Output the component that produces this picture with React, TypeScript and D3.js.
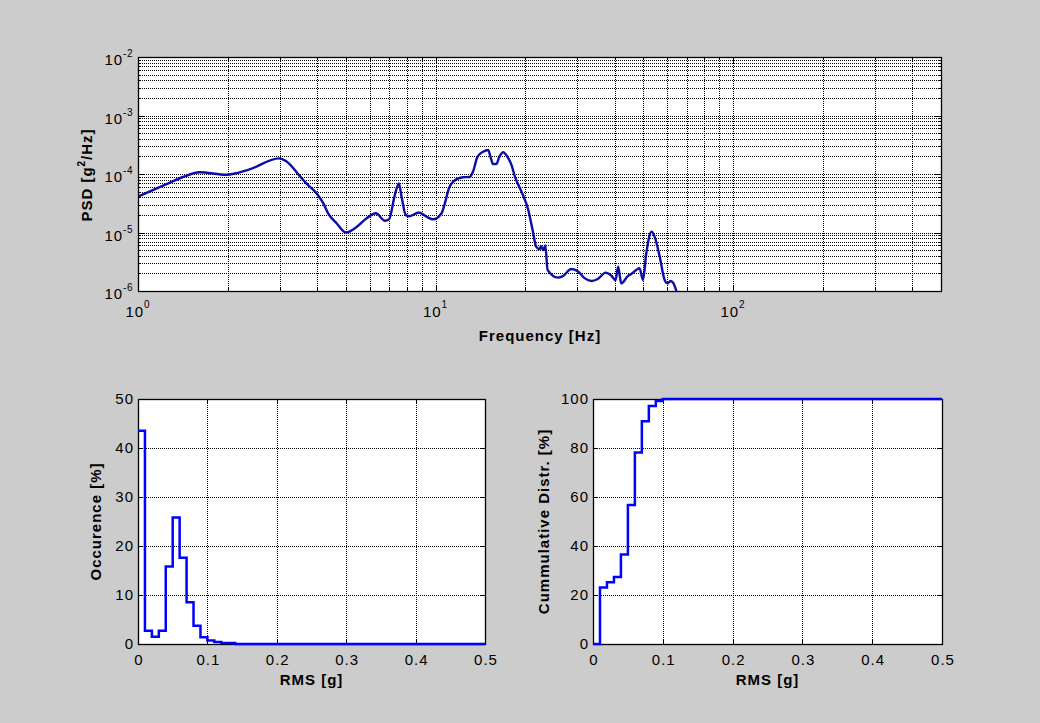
import React from "react";
import * as d3 from "d3";

// ---------- Data ----------
const psdFreq = [
  1.0, 1.23, 1.41, 1.61, 1.98, 2.37, 2.98, 3.15, 3.5, 3.68, 3.98, 4.19, 4.36, 4.65, 5.0,
  5.36, 5.87, 6.3, 6.76, 6.98, 7.3, 7.53, 7.69, 7.94, 8.18, 8.79, 9.33, 9.82, 10.48,
  10.75, 11.1, 11.46, 12.38, 13.04, 13.37, 13.84, 14.45, 15.03, 15.3, 15.6, 16.0, 16.4,
  16.9, 17.3, 18.0, 18.5, 19.45, 20.5, 21.2, 21.8, 22.4, 22.6, 23.0, 23.4, 23.8, 25.8,
  26.8, 28.6, 30.2, 31.7, 33.4, 35.1, 37.3, 39.0, 40.3, 41.1, 41.6, 42.1, 44.3, 45.5,
  47.3, 48.5, 49.8, 51.1, 53.2, 54.5, 56.7, 58.9, 60.2, 61.6, 62.8, 64.5,
];
const psdValue = [
  4.1e-5, 6.5e-5, 8.8e-5, 1.07e-4, 9.7e-5, 1.2e-4, 1.85e-4, 1.65e-4, 9.2e-5, 6.9e-5,
  4.7e-5, 3.2e-5, 2.1e-5, 1.44e-5, 1.0e-5, 1.18e-5, 1.75e-5, 2.13e-5, 1.59e-5, 1.68e-5,
  4.4e-5, 6.9e-5, 4.1e-5, 2.0e-5, 1.9e-5, 2.2e-5, 1.86e-5, 1.68e-5, 2.13e-5, 3.16e-5,
  5.7e-5, 7.4e-5, 8.8e-5, 8.9e-5, 1.1e-4, 1.98e-4, 2.4e-4, 2.57e-4, 1.98e-4, 1.48e-4,
  1.48e-4, 1.98e-4, 2.35e-4, 2.1e-4, 1.43e-4, 8.9e-5, 5.0e-5, 2.43e-5, 1.1e-5, 5.7e-6,
  5.2e-6, 5.9e-6, 5.0e-6, 6.0e-6, 2.3e-6, 1.69e-6, 1.8e-6, 2.38e-6, 2.14e-6, 1.66e-6,
  1.48e-6, 1.6e-6, 2.06e-6, 1.82e-6, 1.54e-6, 2.6e-6, 1.85e-6, 1.35e-6, 1.8e-6, 1.96e-6,
  2.29e-6, 2.45e-6, 1.54e-6, 4.4e-6, 1.03e-5, 8.5e-6, 3.86e-6, 1.54e-6, 1.35e-6, 1.48e-6,
  1.4e-6, 1.0e-6,
];

const occEdges = [0, 0.01, 0.02, 0.03, 0.04, 0.05, 0.06, 0.07, 0.08, 0.09, 0.1, 0.11, 0.12, 0.13, 0.14, 0.5];
const occValues = [43.5, 2.7, 1.5, 2.7, 15.8, 25.8, 17.6, 8.5, 3.7, 1.4, 0.7, 0.4, 0.2, 0.2, 0, 0];

const cumEdges = [0, 0.01, 0.02, 0.03, 0.04, 0.05, 0.06, 0.07, 0.08, 0.09, 0.1, 0.5];
const cumValues = [0, 23.1, 25.2, 27.3, 36.5, 56.7, 78.2, 90.9, 97.1, 99.2, 100, 100];

const rmsTicks = [0, 0.1, 0.2, 0.3, 0.4, 0.5];
const occTicks = [0, 10, 20, 30, 40, 50];
const cumTicks = [0, 20, 40, 60, 80, 100];
const freqMajor = [1, 10, 100];
const psdMajor = [1e-6, 1e-5, 1e-4, 1e-3, 1e-2];

// ---------- Layout ----------
const W = 1040;
const H = 723;
const FONT = "'Liberation Sans', Arial, Helvetica, sans-serif";
const TOP = { x0: 138, x1: 941, y0: 57, y1: 291 };
const BL = { x0: 138, x1: 485, y0: 399, y1: 644 };
const BR = { x0: 593, x1: 942, y0: 399, y1: 644 };

const crisp = (v: number) => Math.round(v) + 0.5;
const GRID = { stroke: "#000", strokeWidth: 1, strokeDasharray: "1,1" };

function logMinor(lo: number, hi: number): number[] {
  const out: number[] = [];
  for (let e = Math.floor(Math.log10(lo)); e <= Math.ceil(Math.log10(hi)); e++) {
    for (let k = 1; k <= 9; k++) {
      const v = k * Math.pow(10, e);
      if (v >= lo * 0.9999 && v <= hi * 1.0001) out.push(v);
    }
  }
  return out;
}

function TopPlot() {
  const x = d3.scaleLog().domain([1, 500]).range([TOP.x0, TOP.x1]);
  const y = d3.scaleLog().domain([1e-6, 1e-2]).range([TOP.y1, TOP.y0]);
  const xs = logMinor(1, 500);
  const ys = logMinor(1e-6, 1e-2);
  const pts: [number, number][] = psdFreq.map((f, i) => [f, psdValue[i]]);
  const line = d3
    .line<[number, number]>()
    .x((d) => x(d[0]))
    .y((d) => y(d[1]))
    .curve(d3.curveMonotoneX);
  return (
    <g>
      <rect x={TOP.x0} y={TOP.y0} width={TOP.x1 - TOP.x0} height={TOP.y1 - TOP.y0} fill="#fff" />
      {xs.map((v, i) => (
        <line key={"gx" + i} x1={crisp(x(v))} x2={crisp(x(v))} y1={TOP.y0} y2={TOP.y1} {...GRID} />
      ))}
      {ys.map((v, i) => (
        <line key={"gy" + i} y1={crisp(y(v))} y2={crisp(y(v))} x1={TOP.x0} x2={TOP.x1} {...GRID} />
      ))}
      {xs.map((v, i) => {
        const major = freqMajor.includes(v);
        const L = major ? 6 : 3;
        const px = crisp(x(v));
        return (
          <g key={"tx" + i}>
            <line x1={px} x2={px} y1={TOP.y1} y2={TOP.y1 - L} stroke="#000" />
            <line x1={px} x2={px} y1={TOP.y0} y2={TOP.y0 + L} stroke="#000" />
          </g>
        );
      })}
      {ys.map((v, i) => {
        const major = psdMajor.some((m) => Math.abs(m - v) / m < 1e-6);
        const L = major ? 6 : 3;
        const py = crisp(y(v));
        return (
          <g key={"ty" + i}>
            <line x1={TOP.x0} x2={TOP.x0 + L} y1={py} y2={py} stroke="#000" />
            <line x1={TOP.x1} x2={TOP.x1 - L} y1={py} y2={py} stroke="#000" />
          </g>
        );
      })}
      <clipPath id="topclip">
        <rect x={TOP.x0} y={TOP.y0} width={TOP.x1 - TOP.x0} height={TOP.y1 - TOP.y0} />
      </clipPath>
      <path d={line(pts) || ""} fill="none" stroke="#0c0ca8" strokeWidth={2.4} clipPath="url(#topclip)" strokeLinejoin="round" />
      <rect x={TOP.x0 + 0.5} y={TOP.y0 + 0.5} width={TOP.x1 - TOP.x0} height={TOP.y1 - TOP.y0} fill="none" stroke="#000" strokeWidth={1.3} />
      {freqMajor.map((v) => (
        <text key={"lx" + v} x={x(v)} y={317} textAnchor="middle" fontFamily={FONT} fontSize={15} letterSpacing={1}>
          10
          <tspan dy={-9} fontSize={10}>
            {Math.round(Math.log10(v))}
          </tspan>
        </text>
      ))}
      {psdMajor.map((v) => (
        <text key={"ly" + v} x={133} y={y(v) + 8} textAnchor="end" fontFamily={FONT} fontSize={15} letterSpacing={1}>
          10
          <tspan dy={-8} fontSize={10} letterSpacing={0.5}>
            {Math.round(Math.log10(v))}
          </tspan>
        </text>
      ))}
      <text x={540} y={341} textAnchor="middle" fontFamily={FONT} fontSize={15} fontWeight="bold" letterSpacing={1}>
        Frequency [Hz]
      </text>
      <text transform={`translate(92,175) rotate(-90)`} textAnchor="middle" fontFamily={FONT} fontSize={15} fontWeight="bold" letterSpacing={1}>
        PSD [g
        <tspan dy={-7} fontSize={10}>2</tspan>
        <tspan dy={7}>/Hz]</tspan>
      </text>
    </g>
  );
}

function StairPlot(props: {
  box: { x0: number; x1: number; y0: number; y1: number };
  edges: number[];
  values: number[];
  yMax: number;
  yTicks: number[];
  yLabel: string;
  yLabelX: number;
  id: string;
}) {
  const { box, edges, values, yMax, yTicks, yLabel, yLabelX, id } = props;
  const x = d3.scaleLinear().domain([0, 0.5]).range([box.x0, box.x1]);
  const y = d3.scaleLinear().domain([0, yMax]).range([box.y1, box.y0]);
  const pts: [number, number][] = edges.map((e, i) => [e, values[i]]);
  const line = d3
    .line<[number, number]>()
    .x((d) => x(d[0]))
    .y((d) => y(d[1]))
    .curve(d3.curveStepAfter);
  const cx = (box.x0 + box.x1) / 2;
  const cy = (box.y0 + box.y1) / 2;
  return (
    <g>
      <rect x={box.x0} y={box.y0} width={box.x1 - box.x0} height={box.y1 - box.y0} fill="#fff" />
      {rmsTicks.map((v, i) => (
        <line key={"gx" + i} x1={crisp(x(v))} x2={crisp(x(v))} y1={box.y0} y2={box.y1} {...GRID} />
      ))}
      {yTicks.map((v, i) => (
        <line key={"gy" + i} y1={crisp(y(v))} y2={crisp(y(v))} x1={box.x0} x2={box.x1} {...GRID} />
      ))}
      {rmsTicks.map((v, i) => (
        <g key={"tx" + i}>
          <line x1={crisp(x(v))} x2={crisp(x(v))} y1={box.y1} y2={box.y1 - 4} stroke="#000" />
          <line x1={crisp(x(v))} x2={crisp(x(v))} y1={box.y0} y2={box.y0 + 4} stroke="#000" />
        </g>
      ))}
      {yTicks.map((v, i) => (
        <g key={"ty" + i}>
          <line x1={box.x0} x2={box.x0 + 4} y1={crisp(y(v))} y2={crisp(y(v))} stroke="#000" />
          <line x1={box.x1} x2={box.x1 - 4} y1={crisp(y(v))} y2={crisp(y(v))} stroke="#000" />
        </g>
      ))}
      <clipPath id={id}>
        <rect x={box.x0 - 2} y={box.y0 - 2} width={box.x1 - box.x0 + 4} height={box.y1 - box.y0 + 4} />
      </clipPath>
      <rect x={box.x0 + 0.5} y={box.y0 + 0.5} width={box.x1 - box.x0} height={box.y1 - box.y0} fill="none" stroke="#000" strokeWidth={1.3} />
      <path d={line(pts) || ""} fill="none" stroke="#0000ff" strokeWidth={2.5} clipPath={`url(#${id})`} />
      {rmsTicks.map((v) => (
        <text key={"lx" + v} x={x(v) + 1} y={665} textAnchor="middle" fontFamily={FONT} fontSize={15} letterSpacing={1}>
          {String(v)}
        </text>
      ))}
      {yTicks.map((v) => (
        <text key={"ly" + v} x={box.x0 - 4} y={y(v) + 5} textAnchor="end" fontFamily={FONT} fontSize={15} letterSpacing={1}>
          {String(v)}
        </text>
      ))}
      <text x={cx} y={685} textAnchor="middle" fontFamily={FONT} fontSize={15} fontWeight="bold" letterSpacing={1}>
        RMS [g]
      </text>
      <text transform={`translate(${yLabelX},${cy}) rotate(-90)`} textAnchor="middle" fontFamily={FONT} fontSize={15} fontWeight="bold" letterSpacing={1}>
        {yLabel}
      </text>
    </g>
  );
}

export default function App() {
  return (
    <svg width={W} height={H} style={{ position: "absolute", left: 0, top: 0, display: "block" }}>
      <rect x={0} y={0} width={W} height={H} fill="#cccccc" />
      <TopPlot />
      <StairPlot box={BL} edges={occEdges} values={occValues} yMax={50} yTicks={occTicks} yLabel="Occurence [%]" yLabelX={101} id="clipbl" />
      <StairPlot box={BR} edges={cumEdges} values={cumValues} yMax={100} yTicks={cumTicks} yLabel="Cummulative Distr. [%]" yLabelX={549} id="clipbr" />
    </svg>
  );
}
